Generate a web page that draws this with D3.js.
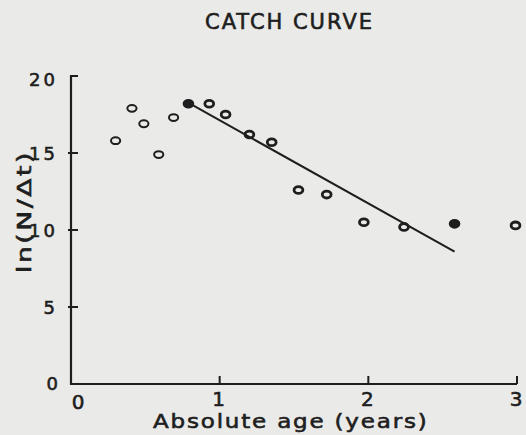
<!DOCTYPE html>
<html>
<head>
<meta charset="utf-8">
<script src="https://cdn.jsdelivr.net/npm/d3@7"></script>
<style>
  body { margin: 0; background: #eaeae8; }
  svg { display: block; }
  text { font-family: "DejaVu Sans", sans-serif; fill: #1e1e1e; stroke: #1e1e1e; stroke-width: 0.6px; }
</style>
</head>
<body>
<div class="chart"></div>
<script>
// catch curve points
var ages   = [0.30, 0.41, 0.49, 0.59, 0.69, 0.79, 0.93, 1.04, 1.20, 1.35, 1.53, 1.72, 1.97, 2.24, 2.58, 2.99];
var lnN    = [15.8, 17.9, 16.9, 14.9, 17.3, 18.2, 18.2, 17.5, 16.2, 15.7, 12.6, 12.3, 10.5, 10.2, 10.4, 10.3];
// o = open circle, r = thick ring, f = filled
var styles = ["o", "o", "o", "o", "o", "f", "r", "r", "r", "r", "r", "r", "r", "r", "f", "r"];

var fitX = [0.80, 2.58];
var fitY = [18.2, 8.6];

var xTicks = [0, 1, 2, 3];
var yTicks = [0, 5, 10, 15, 20];

var width = 526, height = 435;

var svg = d3.select(".chart").append("svg")
  .attr("width", width)
  .attr("height", height);

var x = d3.scaleLinear().domain([0, 3]).range([71, 517]);
var y = d3.scaleLinear().domain([0, 20]).range([384, 76]);

var ink = "#1e1e1e";

// title
svg.append("text")
  .attr("x", 205).attr("y", 29)
  .attr("textLength", 167)
  .attr("lengthAdjust", "spacing")
  .style("font-size", "21px")
  .text("CATCH CURVE");

// axes lines
svg.append("line")
  .attr("x1", x(0)).attr("x2", x(0))
  .attr("y1", y(20) - 1).attr("y2", y(0) + 1)
  .attr("stroke", ink).attr("stroke-width", 2.2);
svg.append("line")
  .attr("x1", x(0) - 1).attr("x2", x(3))
  .attr("y1", y(0)).attr("y2", y(0))
  .attr("stroke", ink).attr("stroke-width", 2.2);

// y ticks
var yt = svg.append("g");
yt.selectAll("line").data(yTicks.filter(function(d){ return d > 0; })).enter()
  .append("line")
  .attr("x1", function(d){ return d == 20 ? x(0) : x(0) - 3; })
  .attr("x2", x(0) + 7)
  .attr("y1", function(d){ return y(d); })
  .attr("y2", function(d){ return y(d); })
  .attr("stroke", ink).attr("stroke-width", 2);
yt.selectAll("text").data(yTicks).enter()
  .append("text")
  .attr("x", function(d){ return d == 0 ? 61 : 58; })
  .attr("y", function(d){ return d == 0 ? 390 : (d == 20 ? y(d) + 10 : y(d) + 7); })
  .attr("text-anchor", "end")
  .style("font-size", "18px")
  .style("letter-spacing", "3px")
  .text(function(d){ return d; });

// x ticks
var xt = svg.append("g");
xt.selectAll("line").data(xTicks.filter(function(d){ return d > 0; })).enter()
  .append("line")
  .attr("x1", function(d){ return x(d); })
  .attr("x2", function(d){ return x(d); })
  .attr("y1", y(0)).attr("y2", y(0) - 8)
  .attr("stroke", ink).attr("stroke-width", 2);
xt.selectAll("text").data(xTicks).enter()
  .append("text")
  .attr("x", function(d){ return d == 0 ? x(d) + 7 : x(d) - 1; })
  .attr("y", function(d){ return d == 0 ? 409 : 406; })
  .attr("text-anchor", "middle")
  .style("font-size", "20px")
  .text(function(d){ return d; });

// axis titles (stretched a bit to look like the stencil lettering)
svg.append("text")
  .attr("transform", "translate(153,428) scale(1.15,1)")
  .attr("textLength", 238)
  .attr("lengthAdjust", "spacing")
  .style("font-size", "20px")
  .text("Absolute   age   (years)");

svg.append("text")
  .attr("transform", "translate(31,273) rotate(-90) scale(1.4,1)")
  .attr("textLength", 86)
  .attr("lengthAdjust", "spacing")
  .style("font-size", "19px")
  .text("ln(N/\u0394t)");

// regression line
svg.append("line")
  .attr("x1", x(fitX[0])).attr("y1", y(fitY[0]))
  .attr("x2", x(fitX[1])).attr("y2", y(fitY[1]))
  .attr("stroke", ink).attr("stroke-width", 2);

// points
var pts = ages.map(function(a, i){ return {a: a, v: lnN[i], s: styles[i]}; });
svg.append("g").selectAll("ellipse")
  .data(pts).enter()
  .append("ellipse")
  .attr("cx", function(d){ return x(d.a); })
  .attr("cy", function(d){ return y(d.v); })
  .attr("rx", function(d){ return d.s == "o" ? 4.6 : 4.4; })
  .attr("ry", function(d){ return d.s == "o" ? 3.4 : 3.4; })
  .attr("fill", function(d){ return d.s == "f" ? ink : "none"; })
  .attr("stroke", ink)
  .attr("stroke-width", function(d){ return d.s == "o" ? 2 : 2.8; });
</script>
</body>
</html>
